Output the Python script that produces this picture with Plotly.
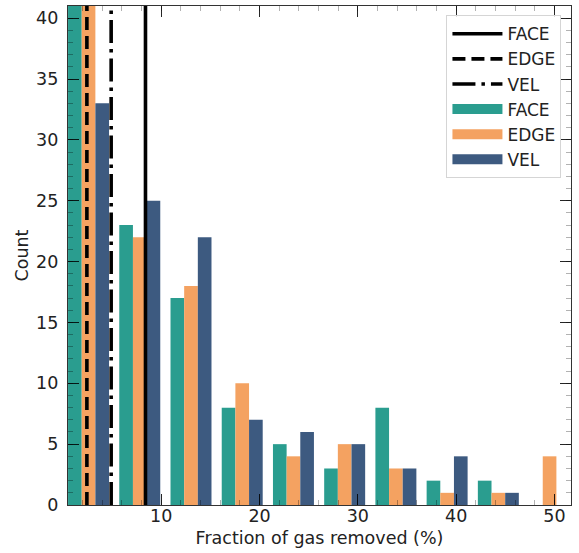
import plotly.graph_objects as go

# ---- data ----
bin_centers = [2.61, 7.82, 13.03, 18.24, 23.45, 28.66, 33.87, 39.08, 44.29, 49.50]
face_counts = [60, 23, 17, 8, 5, 3, 8, 2, 2, 0]
edge_counts = [58, 22, 18, 10, 4, 5, 3, 1, 1, 4]
vel_counts = [33, 25, 22, 7, 6, 5, 3, 4, 1, 0]

series_names = ["FACE", "EDGE", "VEL"]
medians = [8.40, 2.44, 4.91]          # FACE, EDGE, VEL vertical lines
line_dashes = ["solid", "13px,6px", "23px,6px,3.5px,6px"]
bar_colors = ["#2a9d8f", "#f4a261", "#3d5a80"]

x_ticks = [10, 20, 30, 40, 50]
y_ticks = [0, 5, 10, 15, 20, 25, 30, 35, 40]
x_range = [0.52, 51.68]
y_range = [0, 41]

FONT = "DejaVu Sans"
FS = 17.5
fig = go.Figure()

# bars
for name, vals, col in zip(series_names, [face_counts, edge_counts, vel_counts], bar_colors):
    fig.add_trace(go.Bar(x=bin_centers, y=vals, name=name, marker=dict(color=col, line=dict(width=0)),
                         showlegend=False))

# vertical lines (with legend)
for name, m, d in zip(series_names, medians, line_dashes):
    fig.add_trace(go.Scatter(x=[m, m], y=y_range, mode="lines", name=name,
                             line=dict(color="black", width=3.6, dash=d)))

# legend proxies for bars (rectangles)
for name, col in zip(series_names, bar_colors):
    fig.add_trace(go.Scatter(x=[None], y=[None], mode="lines", name=name,
                             line=dict(color=col, width=13)))

axis_common = dict(
    showline=True, linecolor="#333", linewidth=1.2, mirror="allticks",
    ticks="inside", ticklen=11, tickwidth=1.2, tickcolor="rgba(0,0,0,0.85)",
    showgrid=False, zeroline=False, automargin=False,
    tickfont=dict(family=FONT, size=FS, color="#222"),
    title_font=dict(family=FONT, size=FS, color="#222"),
)

fig.update_layout(
    width=579, height=553,
    margin=dict(l=68, r=8.3, t=5.5, b=48),
    paper_bgcolor="white", plot_bgcolor="white",
    barmode="group", bargap=0.2, bargroupgap=0,
    showlegend=True,
    legend=dict(x=0.981, y=0.9816, xanchor="right", yanchor="top",
                bgcolor="rgba(255,255,255,0.85)", bordercolor="#d5d5d5", borderwidth=1,
                font=dict(family=FONT, size=17, color="#222"),
                itemwidth=50, tracegroupgap=0),
    xaxis=dict(range=x_range, tickvals=x_ticks, title=dict(text="Fraction of gas removed (%)", standoff=6),
               minor=dict(dtick=2, ticks="inside", ticklen=5, tickcolor="rgba(0,0,0,0.3)", tickwidth=1.2),
               ticklabelstandoff=-5, **axis_common),
    yaxis=dict(range=y_range, tickvals=y_ticks, title=dict(text="Count", standoff=2),
               minor=dict(dtick=1, ticks="inside", ticklen=5, tickcolor="rgba(0,0,0,0.3)", tickwidth=1.2),
               ticklabelstandoff=5, **axis_common),
)

fig.write_html("out.html")
